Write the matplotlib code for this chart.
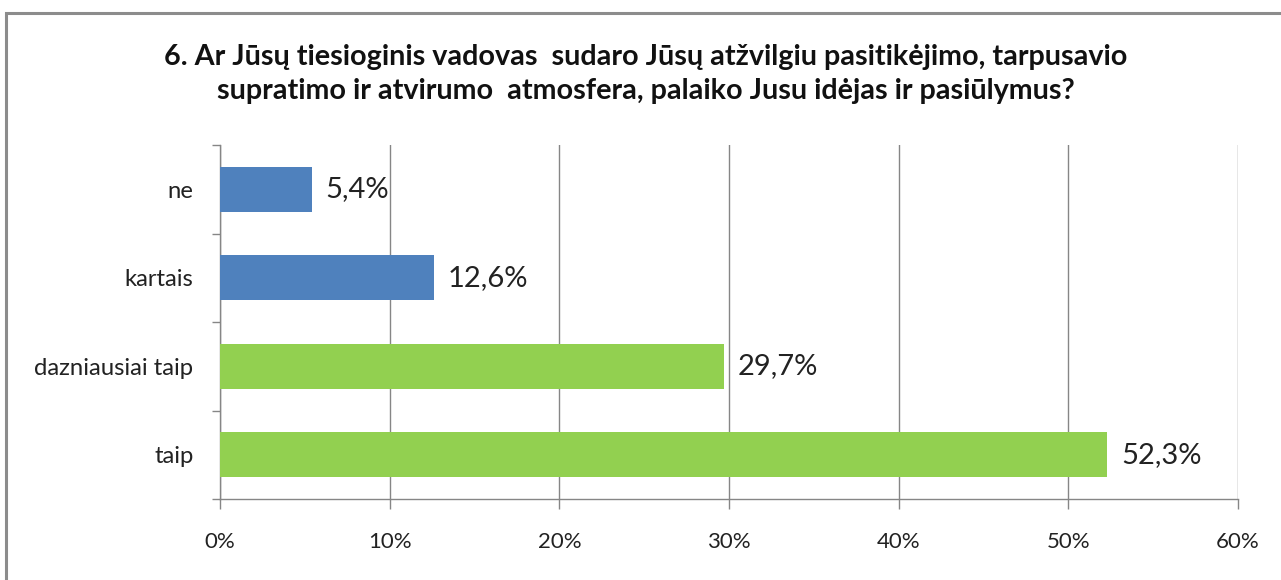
#!/usr/bin/env python3
"""Horizontal bar chart: survey question 6 answers (share of respondents)."""

import matplotlib

matplotlib.use("Agg")
import matplotlib.pyplot as plt
import numpy as np
from matplotlib.patches import Rectangle

CATEGORIES = ["ne", "kartais", "dazniausiai taip", "taip"]
VALUES = [5.4, 12.6, 29.7, 52.3]  # %
LABELS = ["5,4%", "12,6%", "29,7%", "52,3%"]
COLORS = ["#4F81BD", "#4F81BD", "#92D050", "#92D050"]
X_TICKS = [0, 10, 20, 30, 40, 50, 60]
TITLE = ("6. Ar Jūsų tiesioginis vadovas  sudaro Jūsų atžvilgiu pasitikėjimo, tarpusavio\n"
         "supratimo ir atvirumo  atmosfera, palaiko Jusu idėjas ir pasiūlymus?")

GREY = "#868686"
plt.rcParams["font.family"] = ["Lato", "DejaVu Sans"]


def main() -> None:
    fig = plt.figure(figsize=(12.81, 5.8), dpi=100)
    W, H = 1281, 580
    # outer chart frame (cut at right and bottom edges)
    fig.patches.append(Rectangle((6 / W, -0.1), 1.2, (580 - 13) / H + 0.1,
                                 transform=fig.transFigure, fill=False,
                                 edgecolor="#8C8C8C", linewidth=2.2))

    ax = fig.add_axes([220 / W, 1 - 499 / H, (1238 - 220) / W, (499 - 145) / H])
    y = np.arange(len(CATEGORIES))
    ax.barh(y, VALUES, height=0.51, color=COLORS, zorder=3)

    for yi, v, lab in zip(y, VALUES, LABELS):
        ax.annotate(lab, (v, yi), xytext=(14, 0), textcoords="offset pixels",
                    va="center", ha="left", fontsize=21, color="#222222")

    ax.set_xlim(0, 60)
    ax.set_ylim(len(CATEGORIES) - 0.5, -0.5)
    ax.set_xticks(X_TICKS)
    ax.set_xticklabels([f"{t}%" for t in X_TICKS], fontsize=16, color="#222222")
    ax.tick_params(axis="x", length=7, width=1, color=GREY, pad=17)

    ax.set_yticks(np.arange(-0.5, len(CATEGORIES), 1.0))
    ax.set_yticklabels([])
    ax.tick_params(axis="y", which="major", length=6, width=1, color=GREY)
    ax.set_yticks(y, minor=True)
    ax.set_yticklabels(CATEGORIES, minor=True, fontsize=17.2, color="#222222")
    ax.tick_params(axis="y", which="minor", length=0, pad=19)

    ax.grid(axis="x", color=GREY, linewidth=1, zorder=0)
    for side in ("top", "right"):
        ax.spines[side].set_visible(False)
    for side in ("left", "bottom"):
        ax.spines[side].set_color(GREY)
        ax.spines[side].set_linewidth(1)

    fig.text(646 / W, 1 - 74 / H, TITLE, ha="center", va="center",
             fontsize=20.7, fontweight="bold", linespacing=1.35, color="#111111")

    fig.savefig("out.png", dpi=100)
    plt.close(fig)


if __name__ == "__main__":
    main()
